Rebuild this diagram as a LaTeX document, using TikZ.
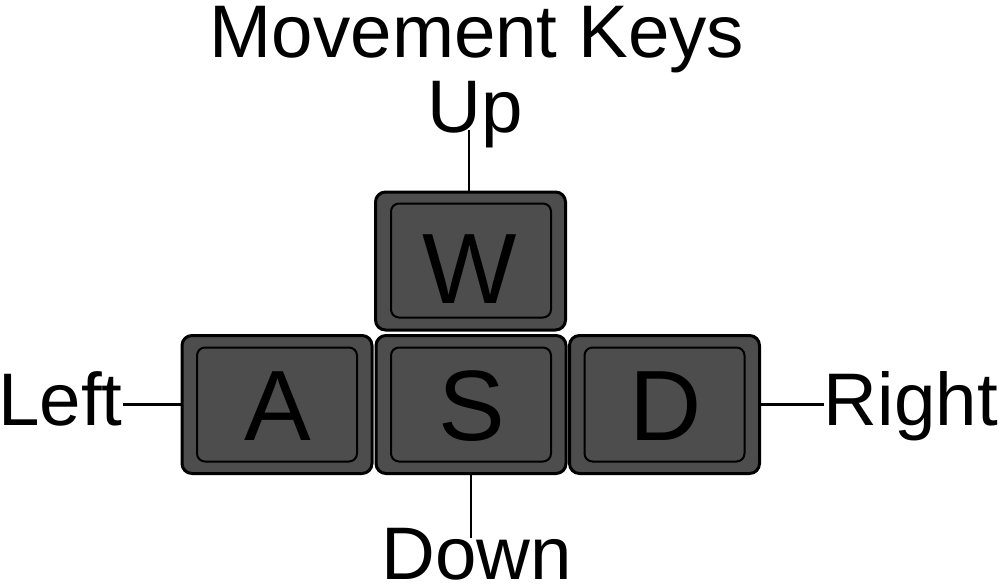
\documentclass[tikz,border=0pt]{standalone}
\usepackage{fontspec}
\setmainfont{Liberation Sans}
\definecolor{keyfill}{HTML}{4D4D4D}
\begin{document}
\begin{tikzpicture}[x=1pt,y=-1pt,
  keyout/.style={draw=black,line width=3pt,fill=keyfill,rounded corners=10pt,
    minimum width=190pt,minimum height=138pt,inner sep=0pt},
  keyin/.style={draw=black,line width=2pt,fill=keyfill,rounded corners=8pt,
    minimum width=160pt,minimum height=114pt,inner sep=0pt},
  keylabel/.style={anchor=base,inner sep=0pt,font=\fontsize{100}{100}\selectfont},
  label/.style={inner sep=0pt,font=\fontsize{74.5}{74.5}\selectfont},
  conn/.style={draw=black,line width=2.5pt}]
\useasboundingbox (0,0) rectangle (999,584);
% keys
\node[keyout] (W) at (470.5,261) {};
\node[keyin] (Wi) at (471,260.5) {};
\node[keylabel] (Wl) at (470,303) {W};
\node[keyout] (A) at (277,404.5) {};
\node[keyin] (Ai) at (277,404.5) {};
\node[keylabel] (Al) at (278,440) {A};
\node[keyout] (S) at (471,404.5) {};
\node[keyin] (Si) at (471,404.5) {};
\node[keylabel] (Sl) at (472,440) {S};
\node[keyout] (D) at (664.5,404.5) {};
\node[keyin] (Di) at (664.5,404.5) {};
\node[keylabel] (Dl) at (666,440) {D};
% labels
\node[label,anchor=base] (title) at (477,57) {Movement Keys};
\node[label,anchor=base] (Up) at (475,132) {Up};
\node[label,anchor=base west] (Left) at (-2,425) {Left};
\node[label,anchor=base east] (Right) at (998,425) {Right};
\node[label,anchor=base] (Down) at (477,579) {Down};
% connectors
\coordinate (upend) at (469,130);
\coordinate (downend) at (471,538);
\draw[conn] (W.north -| upend) -- (upend);
\draw[conn] (S.south -| downend) -- (downend);
\draw[conn] (A.west) -- (A.west -| Left.east);
\draw[conn] (D.east) -- (D.east -| Right.west);
\end{tikzpicture}
\end{document}
